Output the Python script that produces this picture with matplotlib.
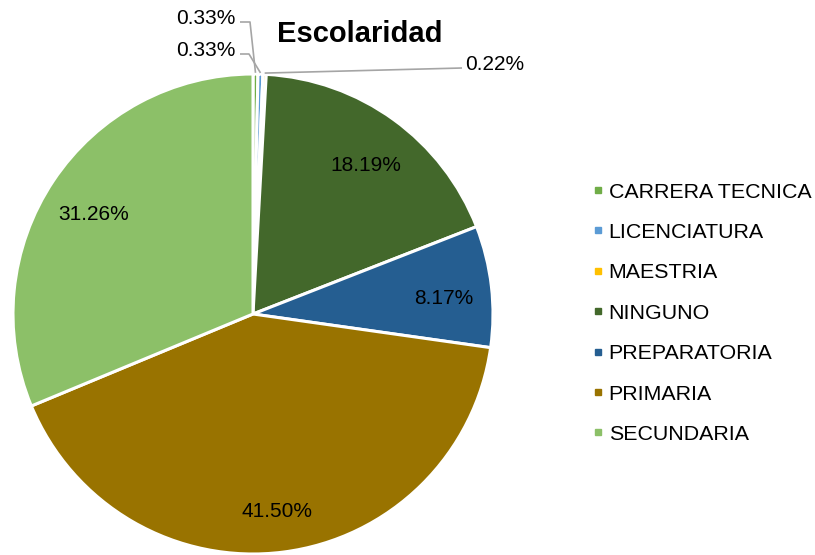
import numpy as np
import matplotlib.pyplot as plt
from matplotlib.lines import Line2D

plt.rcParams['font.family'] = ['Liberation Sans', 'DejaVu Sans']

categorias = ['CARRERA TECNICA', 'LICENCIATURA', 'MAESTRIA', 'NINGUNO',
              'PREPARATORIA', 'PRIMARIA', 'SECUNDARIA']
porcentajes = [0.33, 0.33, 0.22, 18.19, 8.17, 41.50, 31.26]
colores = ['#70AD47', '#5B9BD5', '#FFC000', '#43682B',
           '#255E91', '#997300', '#8CC068']

W, H = 815, 555
fig = plt.figure(figsize=(W / 100, H / 100), dpi=100)

# pie center ~ (253, 314) px, radius 240 px
cx, cy, r = 253, 314, 240
ax = fig.add_axes([(cx - r) / W, (H - cy - r) / H, 2 * r / W, 2 * r / H])

wedges, textos = ax.pie(porcentajes, colors=colores, startangle=90, counterclock=False,
                        radius=1, wedgeprops=dict(edgecolor='white', linewidth=2.2))
ax.set_xlim(-1, 1)
ax.set_ylim(-1, 1)
ax.set_aspect('equal')
ax.axis('off')


def px2data(px, py):
    return (px - cx) / r, (cy - py) / r


# etiquetas dentro de los sectores grandes
for w, p in zip(wedges, porcentajes):
    if p < 1:
        continue
    ang = np.deg2rad((w.theta1 + w.theta2) / 2)
    ax.text(0.8 * np.cos(ang), 0.8 * np.sin(ang) - 7 / r, '%.2f%%' % p,
            ha='center', va='center', fontsize=15, color='black')

# etiquetas con lineas guia para los sectores chicos
guias = [
    # (texto x, texto y, ha, codo x, codo y)
    (235, 19, 'right', 250, 22),
    (235, 51, 'right', 249, 54),
    (465, 64, 'left', 462, 68),
]
chicos = [i for i, p in enumerate(porcentajes) if p < 1]
for i, (tx, ty, ha, kx, ky) in zip(chicos, guias):
    w = wedges[i]
    ang = np.deg2rad((w.theta1 + w.theta2) / 2)
    ex, ey = 1.005 * np.cos(ang), 1.005 * np.sin(ang)
    kx_d, ky_d = px2data(kx, ky)
    if ha == 'right':
        sx, sy = px2data(tx + 5, ky)
    else:
        sx, sy = px2data(tx - 3, ky)
    ax.plot([sx, kx_d, ex], [sy, ky_d, ey], color='#A5A5A5', lw=1.2,
            clip_on=False, solid_capstyle='butt')
    tdx, tdy = px2data(tx, ty)
    ax.text(tdx, tdy, '%.2f%%' % porcentajes[i], ha=ha, va='center',
            fontsize=15, color='black', clip_on=False)

fig.text(360 / W, 1 - 34 / H, 'Escolaridad', ha='center', va='center',
         fontsize=21, fontweight='bold')

handles = [Line2D([], [], marker='s', linestyle='none', markersize=5,
                  markerfacecolor=c, markeredgecolor=c) for c in colores]
fig.legend(handles, categorias, loc='upper left', bbox_to_anchor=(583 / W, 1 - 174 / H),
           frameon=False, fontsize=15.4, handlelength=0.6, handletextpad=0.2,
           labelspacing=1.0, borderaxespad=0)

fig.savefig('out.png', dpi=100)
